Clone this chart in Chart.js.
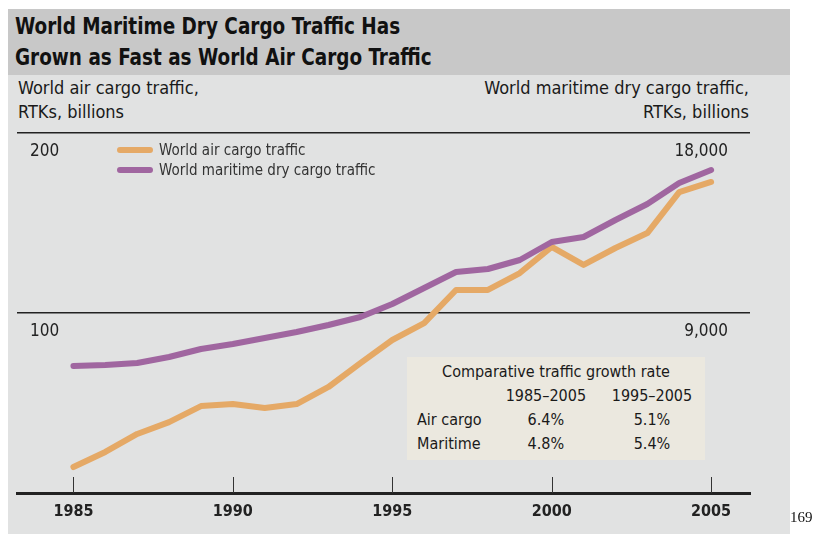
<!DOCTYPE html>
<html>
<head>
<meta charset="utf-8">
<script src="https://cdn.jsdelivr.net/npm/chart.js@4/dist/chart.umd.min.js"></script>
<style>
  body { margin: 0; width: 814px; height: 534px; position: relative; overflow: hidden; background: #fff;
         font-family: 'Liberation Sans Narrow', 'DejaVu Sans Condensed', Roboto, sans-serif; color: #1a1a1a; }
  .abs { position: absolute; }
  #panel { left: 8px; top: 9px; width: 782px; height: 525px; background: #e1e2e2; }
  #header { left: 8px; top: 9px; width: 782px; height: 66px; background: #c8c8c8; }
  #title { left: 15px; top: 11px; font-weight: bold; font-size: 23px; line-height: 31px; color: #111; white-space: nowrap;
           transform: scaleX(0.89); transform-origin: 0 0; }
  .axtitle { top: 76px; font-size: 18px; line-height: 24px; white-space: nowrap; }
  #legend { left: 117px; top: 140px; font-size: 15px; line-height: 20px; color: #333; }
  #legend .item { display: flex; align-items: center; height: 20px; }
  #legend .sw { width: 36px; height: 6px; border-radius: 3px; margin-right: 6px; }
  #growth { left: 407px; top: 357px; width: 298px; height: 103px; background: #ebe8df; font-size: 16px; }
  #growth table { border-collapse: collapse; margin: 0 0 0 10px; }
  #growth td { padding: 0; height: 24px; line-height: 24px; }
  #page { left: 790px; top: 509px; font-family: 'Liberation Serif', serif; font-size: 15px; color: #111; }
  canvas { position: absolute; left: 0; top: 0; }
</style>
</head>
<body>
<div id="panel" class="abs"></div>
<div id="header" class="abs"></div>
<div id="title" class="abs">World Maritime Dry Cargo Traffic Has<br>Grown as Fast as World Air Cargo Traffic</div>
<div class="abs axtitle" style="left:18px;">World air cargo traffic,<br>RTKs, billions</div>
<div class="abs axtitle" style="right:65px;text-align:right;">World maritime dry cargo traffic,<br>RTKs, billions</div>
<canvas id="chart" width="814" height="534"></canvas>
<div id="legend" class="abs"></div>
<div id="growth" class="abs"></div>
<div id="page" class="abs">169</div>
<script>
// values
var years = [1985, 1986, 1987, 1988, 1989, 1990, 1991, 1992, 1993, 1994, 1995,
             1996, 1997, 1998, 1999, 2000, 2001, 2002, 2003, 2004, 2005];
var airCargo = [14.4, 22.8, 32.8, 39.4, 48.3, 49.4, 47.2, 49.4, 58.9, 72.2, 85.0,
                94.4, 112.8, 112.8, 122.2, 136.7, 126.7, 136.1, 144.4, 167.2, 172.8];
var maritimeCargo = [6350, 6400, 6500, 6800, 7200, 7450, 7750, 8050, 8400, 8800, 9450,
                     10250, 11050, 11200, 11650, 12550, 12800, 13650, 14450, 15500, 16150];
var tickYears = [1985, 1990, 1995, 2000, 2005];
var airTicks = [100, 200];
var maritimeTicks = [9000, 18000];

var growthHeader = ['1985\u20132005', '1995\u20132005'];
var growthRows = ['Air cargo', 'Maritime'];
var growthAir = ['6.4%', '5.1%'];
var growthMaritime = ['4.8%', '5.4%'];

var airColor = '#e5a966';
var maritimeColor = '#a066a0';
var cond = "'Liberation Sans Narrow', 'DejaVu Sans Condensed', Roboto, sans-serif";

function points(vals) {
    return vals.map(function(v, i) { return {x: years[i], y: v}; });
}

// little tick marks standing up from the base line
var innerTicks = {
    id: 'innerTicks',
    beforeDatasetsDraw: function(chart) {
        var ctx = chart.ctx, x = chart.scales.x, bottom = chart.chartArea.bottom;
        ctx.save();
        ctx.strokeStyle = '#333';
        ctx.lineWidth = 1;
        tickYears.forEach(function(y) {
            var px = Math.round(x.getPixelForValue(y)) + 0.5;
            ctx.beginPath();
            ctx.moveTo(px, bottom - 16);
            ctx.lineTo(px, bottom);
            ctx.stroke();
        });
        ctx.restore();
    }
};

var chart = new Chart(document.getElementById('chart').getContext('2d'), {
    type: 'line',
    data: {
        datasets: [{
            label: 'World air cargo traffic',
            data: points(airCargo),
            borderColor: airColor,
            yAxisID: 'yL',
            order: 2
        }, {
            label: 'World maritime dry cargo traffic',
            data: points(maritimeCargo),
            borderColor: maritimeColor,
            yAxisID: 'yR',
            order: 1
        }]
    },
    options: {
        responsive: false,
        animation: false,
        devicePixelRatio: 1,
        layout: { padding: { left: 4, right: 42, top: 133, bottom: 0 } },
        elements: {
            line: { borderWidth: 6, tension: 0, borderCapStyle: 'round', borderJoinStyle: 'round', fill: false },
            point: { radius: 0, hoverRadius: 0 }
        },
        plugins: { legend: { display: false }, tooltip: { enabled: false } },
        scales: {
            x: {
                type: 'linear',
                min: 1983.23,
                max: 2006.22,
                afterBuildTicks: function(s) { s.ticks = tickYears.map(function(v) { return {value: v}; }); },
                afterFit: function(s) { s.height = 41; },
                grid: { display: false },
                border: { display: true, color: '#222', width: 3 },
                ticks: {
                    autoSkip: false, maxRotation: 0, padding: 1, color: '#222',
                    font: { family: cond, size: 16, weight: 'bold' },
                    callback: function(v) { return String(v); }
                }
            },
            yL: {
                position: 'left',
                min: 0,
                max: 200,
                afterBuildTicks: function(s) { s.ticks = [0].concat(airTicks).map(function(v) { return {value: v}; }); },
                afterFit: function(s) { s.width = 13; },
                grid: {
                    drawTicks: false, lineWidth: 1.5,
                    color: function(c) { return c.tick && c.tick.value === 0 ? 'rgba(0,0,0,0)' : '#222'; }
                },
                border: { display: false },
                ticks: {
                    mirror: true, padding: 13, labelOffset: 19, color: '#222',
                    font: { family: cond, size: 17 },
                    callback: function(v) { return v === 0 ? '' : String(v); }
                }
            },
            yR: {
                position: 'right',
                min: 0,
                max: 18000,
                afterBuildTicks: function(s) { s.ticks = [0].concat(maritimeTicks).map(function(v) { return {value: v}; }); },
                afterFit: function(s) { s.width = 22; },
                grid: { display: false, drawTicks: false },
                border: { display: false },
                ticks: {
                    mirror: true, padding: -22, labelOffset: 19, color: '#222',
                    font: { family: cond, size: 17 },
                    callback: function(v) { return v === 0 ? '' : v.toLocaleString('en-US'); }
                }
            }
        }
    },
    plugins: [innerTicks]
});

// legend built from the datasets
var lg = document.getElementById('legend');
chart.data.datasets.forEach(function(d) {
    var row = document.createElement('div');
    row.className = 'item';
    row.innerHTML = '<span class="sw" style="background:' + d.borderColor + '"></span>' + d.label;
    lg.appendChild(row);
});

// growth-rate box
var html = '<div style="text-align:center;line-height:24px;margin-top:3px;">Comparative traffic growth rate</div>';
html += '<table><tr><td style="width:76px"></td>';
growthHeader.forEach(function(h) { html += '<td style="width:107px;text-align:center">' + h + '</td>'; });
html += '</tr>';
[growthAir, growthMaritime].forEach(function(r, i) {
    html += '<tr><td>' + growthRows[i] + '</td>';
    r.forEach(function(v) { html += '<td style="text-align:center">' + v + '</td>'; });
    html += '</tr>';
});
html += '</table>';
document.getElementById('growth').innerHTML = html;
</script>
</body>
</html>
